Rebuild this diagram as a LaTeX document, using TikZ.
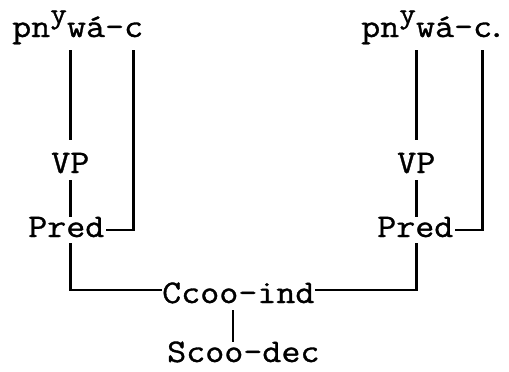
\documentclass[tikz,border=0pt]{standalone}
\usepackage{fontspec}
\newfontfamily\tw[FakeStretch=1.12,FakeBold=1]{Latin Modern Mono}
\newcommand\supy{\raisebox{14pt}{\fontsize{29}{29}\selectfont y}}
\begin{document}
\begin{tikzpicture}[x=1pt,y=-1pt,
  lbl/.style={font=\tw\fontsize{33}{36}\selectfont, inner sep=0pt, text height=20pt, text depth=6pt, anchor=base west},
  ln/.style={line width=2.8pt}]
\useasboundingbox (0,0) rectangle (509,372);
\node[lbl] (topL) at (12,37) {pn\supy wá-c};
\node[lbl] (VPL) at (51,173) {VP};
\node[lbl] (PredL) at (28,237) {Pred};
\node[lbl,text height=26pt,text depth=0pt] (Cc) at (162,303) {Ccoo-ind};
\node[lbl] (Sc) at (167,362) {Scoo-dec};
\node[lbl] (topR) at (361,37) {pn\supy wá-c\rlap{\kern-5pt.}};
\node[lbl] (VPR) at (397,173) {VP};
\node[lbl] (PredR) at (377,237) {Pred};
% left
\draw[ln,shorten <=7pt,shorten >=13pt] (VPL.north |- topL.south) -- (VPL.north);
\draw[ln,shorten <=1pt] (VPL.south) -- (VPL.south |- PredL.north);
\draw[ln,shorten <=7pt] ([xshift=-10pt]topL.south east) |- ([xshift=1pt]PredL.east);
\draw[ln] (PredL.south -| VPL.south) |- (Cc.west);
% right
\draw[ln,shorten <=7pt,shorten >=13pt] (VPR.north |- topR.south) -- (VPR.north);
\draw[ln,shorten <=1pt] (VPR.south) -- (VPR.south |- PredR.north);
\draw[ln,shorten <=7pt] ([xshift=-10pt]topR.south east) |- ([xshift=1pt]PredR.east);
\draw[ln] (PredR.south -| VPR.south) |- (Cc.east);
% bottom
\draw[ln,shorten <=7pt] ([xshift=71pt]Cc.south west) -- ([xshift=71pt]Cc.south west |- Sc.north);
\end{tikzpicture}
\end{document}
